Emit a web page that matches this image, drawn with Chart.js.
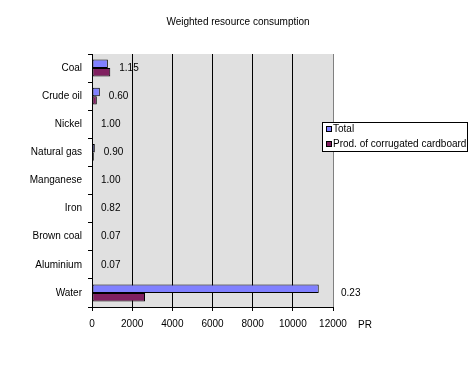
<!DOCTYPE html>
<html>
<head>
<meta charset="utf-8">
<script src="https://cdn.jsdelivr.net/npm/chart.js@4/dist/chart.umd.min.js"></script>
<style>
html,body{margin:0;padding:0;background:#fff;}
#wrap{width:476px;height:373px;}
</style>
</head>
<body>
<div id="wrap"><canvas id="c" width="476" height="373"></canvas></div>
<script>
const categories = ["Coal","Crude oil","Nickel","Natural gas","Manganese","Iron","Brown coal","Aluminium","Water"];
const totalValues = [790, 390, 0, 140, 0, 0, 0, 0, 11290];
const prodValues = [910, 240, 0, 90, 0, 0, 0, 0, 2640];
const ratioLabels = ["1.15","0.60","1.00","0.90","1.00","0.82","0.07","0.07","0.23"];
const xTicks = [0, 2000, 4000, 6000, 8000, 10000, 12000];
const seriesNames = ["Total", "Prod. of corrugated cardboard"];
const axisUnit = "PR";
const chartTitle = "Weighted resource consumption";

const FONT = "'Liberation Sans', Arial, sans-serif";

const bgPlugin = {
  id: 'plotBg',
  beforeDraw(chart) {
    const {ctx, chartArea: a} = chart;
    ctx.save();
    ctx.fillStyle = '#e0e0e0';
    ctx.fillRect(a.left, a.top, a.right - a.left, a.bottom - a.top);
    ctx.restore();
  }
};

const labelPlugin = {
  id: 'ratioLabels',
  afterDatasetsDraw(chart) {
    const {ctx, chartArea: a} = chart;
    const xs = chart.scales.x, ys = chart.scales.y;
    const m0 = chart.getDatasetMeta(0), m1 = chart.getDatasetMeta(1);
    ctx.save();
    ctx.font = "10px " + FONT;
    ctx.fillStyle = '#000';
    ctx.textBaseline = 'middle';
    ctx.textAlign = 'center';
    ctx.fillText(chartTitle, chart.width / 2, 22);
    ctx.textAlign = 'left';
    ratioLabels.forEach((t, i) => {
      const end = Math.max(m0.data[i].x, m1.data[i].x, xs.getPixelForValue(0));
      let x = end + 9;
      if (x + 20 > a.right) x = a.right + 8;
      ctx.fillText(t, x, ys.getPixelForValue(i));
    });
    // axis unit
    ctx.fillText(axisUnit, a.right + 25, a.bottom + 18);
    // legend
    const lx = 322, ly = 122, lw = 145, lh = 29;
    ctx.fillStyle = '#fff';
    ctx.fillRect(lx, ly, lw, lh);
    ctx.strokeStyle = '#000';
    ctx.lineWidth = 1;
    ctx.strokeRect(lx + 0.5, ly + 0.5, lw, lh);
    chart.data.datasets.forEach((ds, i) => {
      const yy = ly + 7 + i * 15;
      ctx.fillStyle = ds.backgroundColor;
      ctx.fillRect(lx + 4, yy - 3, 6, 6);
      ctx.strokeRect(lx + 4.5, yy - 2.5, 5, 5);
      ctx.fillStyle = '#000';
      ctx.fillText(ds.label, lx + 11, yy + 0.5);
    });
    ctx.restore();
  }
};

new Chart(document.getElementById('c'), {
  type: 'bar',
  data: {
    labels: categories,
    datasets: [
      {label: seriesNames[0], data: totalValues, backgroundColor: '#8080ff', borderColor: '#000', borderWidth: 1, borderSkipped: false},
      {label: seriesNames[1], data: prodValues, backgroundColor: '#802060', borderColor: '#000', borderWidth: 1, borderSkipped: false}
    ]
  },
  options: {
    indexAxis: 'y',
    responsive: false,
    animation: false,
    devicePixelRatio: 1,
    layout: {padding: {left: 4, right: 143, top: 54, bottom: 36}},
    datasets: {bar: {categoryPercentage: 0.6, barPercentage: 1.0}},
    plugins: {
      legend: {display: false},
      tooltip: {enabled: false},
      title: {display: false}
    },
    scales: {
      x: {
        min: 0, max: 12000,
        afterBuildTicks(s) { s.ticks = xTicks.map(v => ({value: v})); },
        afterFit(s) { s.height = 30; },
        grid: {color: ctx => (ctx.tick && ctx.tick.value === 12000) ? '#808080' : '#000', tickColor: '#000', tickLength: 4, lineWidth: 1},
        border: {color: '#000'},
        ticks: {color: '#000', padding: 7, maxRotation: 0, font: {family: FONT, size: 10}, callback: v => String(v)}
      },
      y: {
        afterFit(s) { s.width = 88; },
        grid: {offset: true, drawOnChartArea: false, color: '#000', tickLength: 4},
        border: {color: '#000'},
        ticks: {color: '#000', padding: 6, font: {family: FONT, size: 10}}
      }
    }
  },
  plugins: [bgPlugin, labelPlugin]
});
</script>
</body>
</html>
